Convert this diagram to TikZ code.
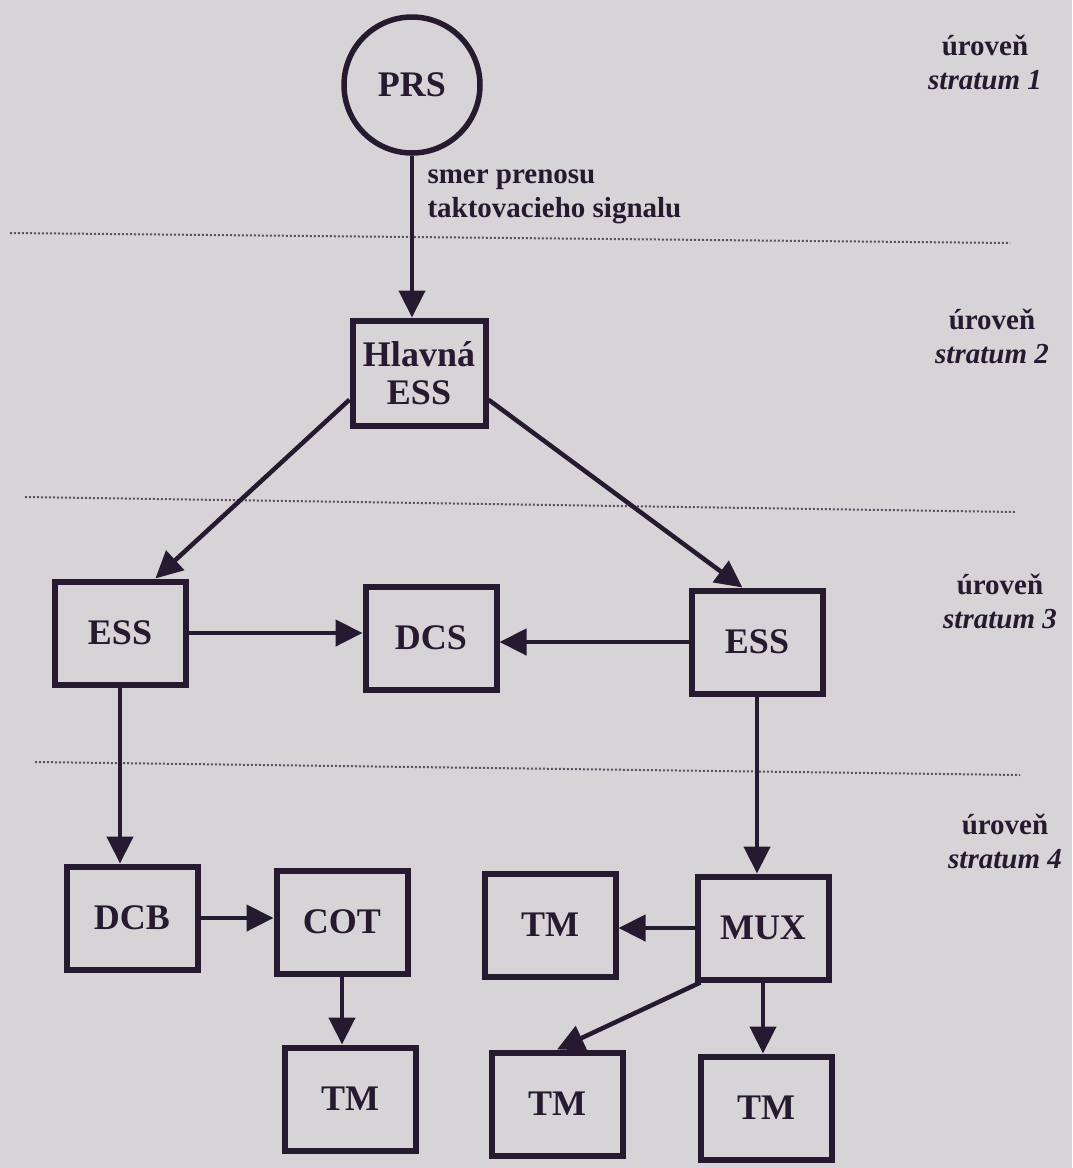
\documentclass[tikz,border=0pt]{standalone}
\usepackage{fontspec}
\setmainfont{Liberation Serif}
\usepackage{tikz}
\usetikzlibrary{arrows.meta,shapes}
\definecolor{paper}{RGB}{214,212,215}
\definecolor{ink}{RGB}{38,26,48}
\tikzstyle{edge}=[
	-{Triangle[length=27pt,width=26pt]},
	line width=4.5pt,
	draw=ink
]
\tikzstyle{sized}=[
    minimum width=131pt,
    minimum height=103pt
]
\tikzstyle{station}=[
    sized,
    rectangle,
    draw=ink,
    line width=6pt,
    text=ink,
    font=\fontsize{36}{40}\selectfont\bfseries
]
\tikzstyle{source}=[
    circle,
    draw=ink,
    line width=5.5pt,
    minimum size=136pt,
    text=ink,
    font=\fontsize{36}{40}\selectfont\bfseries
]
\tikzstyle{level}=[
    align=center,
    text=ink,
    font=\fontsize{29}{34}\selectfont\bfseries
]
\tikzstyle{sep}=[
    dotted,
    line width=2pt,
    draw=ink!75
]

\begin{document}
\begin{tikzpicture}[x=1pt, y=-1pt]
\useasboundingbox (0,0) rectangle (1072,1168);
\fill[paper] (0,0) rectangle (1072,1168);

\node[source] (prs) at (412,85) {PRS};
\node[station, minimum width=133pt, minimum height=105pt, align=center] (hess) at (419,373) {Hlavná\\[-2pt]ESS};

\node[station] (ess1) at (120,633) {ESS};
\node[station] (dcs) at (431,638) {DCS};
\node[station] (ess2) at (757,642) {ESS};

\node[station] (dcb) at (132,918) {DCB};
\node[station] (cot) at (342,922) {COT};
\node[station] (tm1) at (350,1099) {TM};

\node[station] (tm2) at (550,925) {TM};
\node[station] (mux) at (763,928) {MUX};
\node[station] (tm3) at (557,1104) {TM};
\node[station] (tm4) at (766,1108) {TM};

% levels
\node[level] (lev1) at (985,62) {úroveň\\\textit{stratum 1}};
\node[level] (lev2) at (992,336) {úroveň\\\textit{stratum 2}};
\node[level] (lev3) at (1000,601) {úroveň\\\textit{stratum 3}};
\node[level] (lev4) at (1005,841) {úroveň\\\textit{stratum 4}};

\node[level, align=left, anchor=west] (dir) at (424,197) {smer prenosu\\taktovacieho signalu};

\draw[sep] (10,233) -- (1010,243);
\draw[sep] (25,497) -- (1015,512);
\draw[sep] (35,762) -- (1020,775);

\draw[edge] (prs.south) to (prs.south |- hess.north);
\draw[edge] (hess.201) to (ess1.57);
\draw[edge] (hess.339) to (ess2.105);
\draw[edge] (ess1.east) to (ess1.east -| dcs.west);
\draw[edge] (ess2.west) to (ess2.west -| dcs.east);
\draw[edge] (ess1.south) to (ess1.south |- dcb.north);
\draw[edge] (ess2.south) to (ess2.south |- mux.north);
\draw[edge] (dcb.east) to (dcb.east -| cot.west);
\draw[edge] (cot.south) to (cot.south |- tm1.north);
\draw[edge] (mux.west) to (mux.west -| tm2.east);
\draw[edge] (mux.221) to (tm3.north);
\draw[edge] (mux.south) to (mux.south |- tm4.north);

\end{tikzpicture}
\end{document}
